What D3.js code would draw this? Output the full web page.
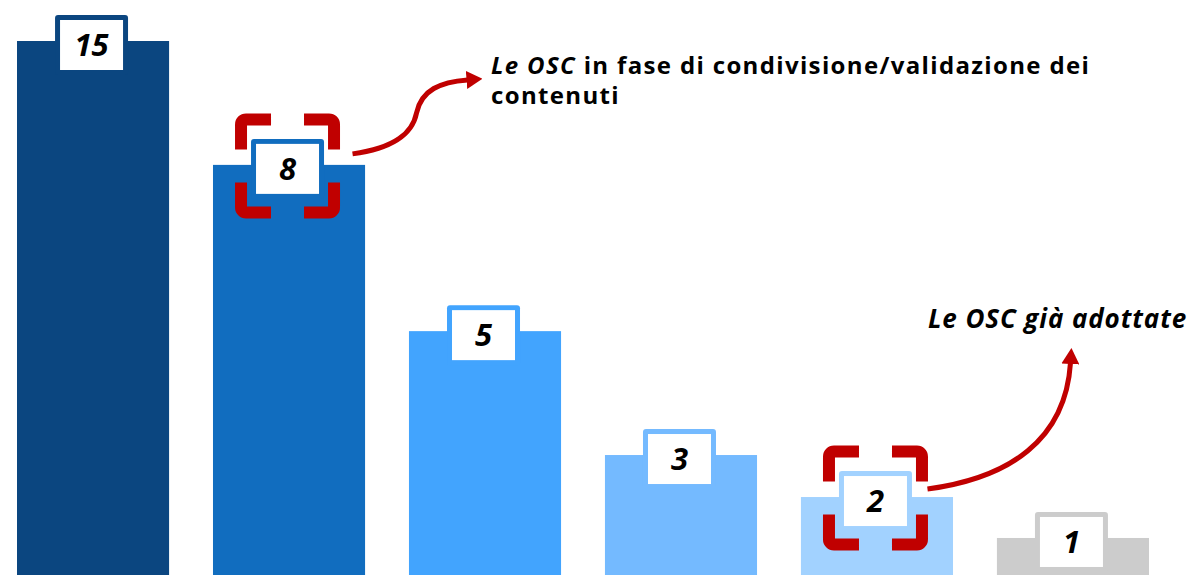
<!DOCTYPE html>
<html>
<head>
<meta charset="utf-8">
<script src="https://cdn.jsdelivr.net/npm/d3@7/dist/d3.min.js"></script>
<style>
  html, body { margin: 0; padding: 0; background: #ffffff; }
  svg { display: block; }
  text { font-family: "Segoe UI", "Open Sans", "Noto Sans", sans-serif; }
</style>
</head>
<body>
<svg id="chart" width="1194" height="575"></svg>
<script>
// ---- data ----
const categories = ["c1", "c2", "c3", "c4", "c5", "c6"];
const barLabels = ["15", "8", "5", "3", "2", "1"];
// visual bar heights as drawn in the picture (in label units of the tallest bar)
const barHeights = [15, 11.52, 6.85, 3.37, 2.19, 1.04];
const barColors = ["#0B4680", "#116DBF", "#42A4FE", "#74BAFF", "#A2D2FF", "#CCCCCC"];
const highlighted = ["c2", "c5"];
const noteTop = { italic: "Le OSC", rest: " in fase di condivisione/validazione dei", line2: "contenuti" };
const noteBottom = "Le OSC già adottate";

const W = 1194, H = 575;
const red = "#C00000";
const svg = d3.select("#chart");

const x = d3.scaleBand().domain(categories).range([17, 1149]).paddingInner(0.224).paddingOuter(0);
const y = d3.scaleLinear().domain([0, 15]).range([H, 41]);

const data = categories.map((c, i) => ({ c, label: barLabels[i], h: barHeights[i], color: barColors[i] }));

// bars
svg.append("g").selectAll("rect").data(data).join("rect")
  .attr("x", d => x(d.c))
  .attr("y", d => y(d.h))
  .attr("width", x.bandwidth())
  .attr("height", d => H - y(d.h))
  .attr("fill", d => d.color);

// label boxes
const boxW = 63, boxH = 50, border = 5;
const g = svg.append("g").selectAll("g").data(data).join("g")
  .attr("transform", d => `translate(${x(d.c) + x.bandwidth() / 2 - 1.5},${y(d.h) + 4})`);
g.append("rect")
  .attr("x", -boxW / 2 - border).attr("y", -boxH / 2 - border)
  .attr("width", boxW + 2 * border).attr("height", boxH + 2 * border)
  .attr("rx", 3).attr("fill", d => d.color);
g.append("rect")
  .attr("x", -boxW / 2).attr("y", -boxH / 2)
  .attr("width", boxW).attr("height", boxH)
  .attr("fill", "#ffffff");
g.append("text")
  .attr("text-anchor", "middle")
  .attr("y", 11)
  .attr("font-size", 31)
  .attr("font-weight", "bold")
  .attr("font-style", "italic")
  .attr("fill", "#000")
  .text(d => d.label);

// highlight brackets
const bs = 105, th = 12, arm = 36, r = 5;
const half = bs / 2 - th / 2;
const inner = bs / 2 - arm;
function bracketPath(cx, cy) {
  const p = [];
  [[-1, -1], [1, -1], [1, 1], [-1, 1]].forEach(([sx, sy]) => {
    const x0 = cx + sx * half, y0 = cy + sy * inner;
    const yc = cy + sy * (half - r);
    const xc = cx + sx * (half - r);
    const x1 = cx + sx * inner, y1 = cy + sy * half;
    const sweep = sx < 0 ? (sy < 0 ? 1 : 0) : (sy < 0 ? 0 : 1);
    p.push(`M${x0},${y0}L${x0},${yc}A${r},${r} 0 0 ${sweep} ${xc},${y1}L${x1},${y1}`);
  });
  return p.join("");
}
const hl = data.filter(d => highlighted.includes(d.c)).map(d => ({
  cx: x(d.c) + x.bandwidth() / 2 - 1.5,
  cy: y(d.h) + 1
}));
svg.append("g").selectAll("path").data(hl).join("path")
  .attr("d", d => bracketPath(d.cx, d.cy))
  .attr("fill", "none")
  .attr("stroke", red)
  .attr("stroke-width", th)
  .attr("stroke-linecap", "butt");

// arrows
const defs = svg.append("defs");
defs.append("marker")
  .attr("id", "ah")
  .attr("markerUnits", "userSpaceOnUse")
  .attr("viewBox", "0 0 16 18")
  .attr("markerWidth", 16).attr("markerHeight", 18)
  .attr("refX", 1).attr("refY", 9)
  .attr("orient", "auto")
  .append("path").attr("d", "M0,0L16,9L0,18Z").attr("fill", red);

const a1 = hl[0], a2 = hl[1];
const s1 = [a1.cx + 65, a1.cy - 12];
svg.append("path")
  .attr("d", `M${s1[0]},${s1[1]}C${s1[0] + 43},${s1[1] - 6} ${s1[0] + 60},${s1[1] - 21} ${s1[0] + 64},${s1[1] - 41}C${s1[0] + 69},${s1[1] - 64} ${s1[0] + 88},${s1[1] - 72} ${s1[0] + 115},${s1[1] - 74}`)
  .attr("fill", "none").attr("stroke", red).attr("stroke-width", 5)
  .attr("marker-end", "url(#ah)");
const s2 = [a2.cx + 52, a2.cy - 9];
svg.append("path")
  .attr("d", `M${s2[0]},${s2[1]}C${s2[0] + 82},${s2[1] - 11} ${s2[0] + 138},${s2[1] - 49} ${s2[0] + 143},${s2[1] - 126}`)
  .attr("fill", "none").attr("stroke", red).attr("stroke-width", 5)
  .attr("marker-end", "url(#ah)");

// annotation texts
function fitWidth(sel, target) {
  const node = sel.node();
  const n = node.textContent.length;
  const w = node.getComputedTextLength();
  sel.attr("letter-spacing", ((target - w) / n).toFixed(2));
}
const t1 = svg.append("text")
  .attr("x", 491).attr("y", 74)
  .attr("font-size", 24).attr("font-weight", "bold").attr("fill", "#000");
t1.append("tspan").attr("font-style", "italic").text(noteTop.italic);
t1.append("tspan").text(noteTop.rest);
fitWidth(t1, 599);
const t1b = svg.append("text")
  .attr("x", 491).attr("y", 104)
  .attr("font-size", 24).attr("font-weight", "bold").attr("fill", "#000")
  .text(noteTop.line2);
t1b.attr("letter-spacing", t1.attr("letter-spacing"));

const t2 = svg.append("text")
  .attr("x", 928).attr("y", 328)
  .attr("font-size", 26).attr("font-weight", "bold").attr("font-style", "italic").attr("fill", "#000")
  .text(noteBottom);
fitWidth(t2, 259);
</script>
</body>
</html>
